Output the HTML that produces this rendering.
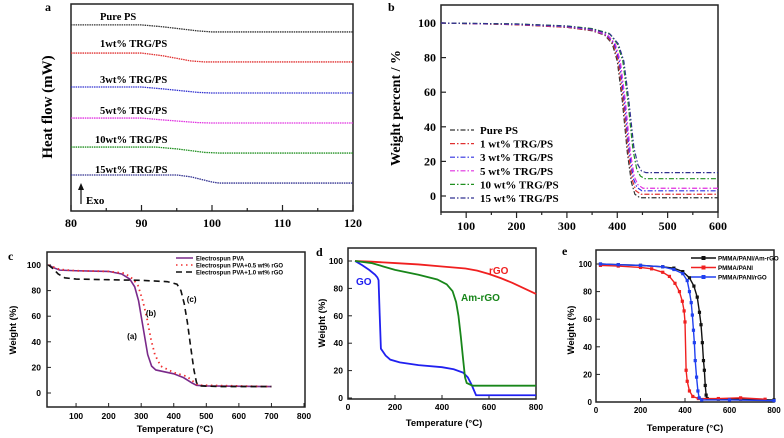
<!DOCTYPE html>
<html><head><meta charset="utf-8"><style>
html,body{margin:0;padding:0;background:#fff;}
svg{display:block;}
.sr{font-family:"Liberation Serif",serif;font-weight:bold;}
.ss{font-family:"Liberation Sans",sans-serif;font-weight:bold;}
</style></head><body>
<svg id="fig" width="784" height="438" viewBox="0 0 784 438" xmlns="http://www.w3.org/2000/svg"></svg>
<script>
// ---------- DATA ----------
// Panel a (DSC): [temperature, heat flow arbitrary]
const aPure=[[80,89.9],[90,89.9],[93,89],[98,87],[100,86.5],[120,86.5]];
const a1wt=[[80,76.3],[90,76.3],[93,75],[97,72.5],[99,72],[120,72]];
const a3wt=[[80,59.9],[90,59.9],[93,59],[98,57.3],[100,57],[120,57]];
const a5wt=[[80,44.9],[90,44.9],[93,44],[98,42.7],[100,42.5],[120,42.5]];
const a10wt=[[80,30.9],[92,30.9],[95,30],[99,28.3],[101,28],[120,28]];
const a15wt=[[80,17.4],[95,17.4],[97,16.5],[100,14],[101,13.5],[120,13.5]];
const aLabels=["Pure PS","1wt% TRG/PS","3wt% TRG/PS","5wt% TRG/PS","10wt% TRG/PS","15wt% TRG/PS"];
const aXTicks=[80,90,100,110,120];
// Panel b (TGA)
const bPure=[[50,100],[200,99],[300,97.5],[350,95.5],[375,93],[390,88],[400,78],[410,55],[420,25],[428,8],[435,1],[445,-1],[600,-1]];
const b1wt=[[50,100],[200,99],[300,97.5],[350,95.7],[377,93],[392,88],[402,78],[412,55],[422,25],[430,9],[437,3],[447,1],[600,1]];
const b3wt=[[50,100],[200,99.2],[300,97.8],[350,96],[379,93],[394,88],[404,78],[414,55],[424,25],[432,10],[439,5],[449,3],[600,3]];
const b5wt=[[50,100],[200,99.3],[300,98],[350,96.2],[381,93],[396,88],[406,78],[416,55],[426,25],[434,11],[441,6.5],[451,4.5],[600,4.5]];
const b10wt=[[50,100],[200,99.5],[300,98.3],[350,96.8],[384,94],[400,88],[411,78],[421,55],[431,27],[439,15],[446,11.5],[455,10],[600,10]];
const b15wt=[[50,100],[200,99.4],[300,98.2],[350,96.5],[386,93.5],[402,88],[413,78],[423,55],[433,28],[441,18],[448,14.5],[457,13.5],[600,13.5]];
const bLabels=["Pure PS","1 wt% TRG/PS","3 wt% TRG/PS","5 wt% TRG/PS","10 wt% TRG/PS","15 wt% TRG/PS"];
const bXTicks=[100,200,300,400,500,600];
const bYTicks=[0,20,40,60,80,100];
// Panel c
const cPVA=[[15,100],[30,98],[50,96],[100,95.5],[200,95],[240,93],[265,89],[280,83],[292,72],[300,60],[310,45],[320,30],[332,21],[345,18],[400,15],[430,12],[455,8],[470,6],[500,5.5],[700,5]];
const cPVA05=[[15,100],[50,96.5],[100,95.5],[200,95],[250,93.5],[275,89],[290,84],[305,72],[318,58],[330,42],[342,30],[360,21],[400,16],[440,13],[460,9],[475,6],[500,6],[700,5]];
const cPVA10=[[15,100],[30,97],[45,93],[65,90],[100,89],[200,88.5],[300,88],[380,87],[410,85],[422,80],[432,70],[442,55],[452,36],[462,18],[470,8],[480,5.5],[550,5],[700,5]];
const cLabels=["Electrospun PVA","Electrospun PVA+0.5 wt% rGO","Electrospun PVA+1.0 wt% rGO"];
const cXTicks=[100,200,300,400,500,600,700,800];
const cYTicks=[0,20,40,60,80,100];
// Panel d
const dRGO=[[30,100],[100,99.5],[200,98.5],[300,97.5],[400,96],[500,94.5],[550,93],[600,90.5],[650,87.5],[700,84],[750,80],[800,76]];
const dGO=[[30,100],[60,97],[90,93.5],[115,90],[125,88],[130,86],[135,60],[140,36],[160,31],[180,28],[220,26],[300,24],[400,22.5],[450,21],[490,18.5],[510,15],[525,10],[540,4],[545,2],[800,2]];
const dAmRGO=[[30,100],[100,98.5],[150,96],[200,93.5],[300,90],[380,86.5],[420,83],[445,78],[460,70],[470,60],[480,45],[490,28],[498,15],[505,11],[530,9],[800,9]];
const dXTicks=[0,200,400,600,800];
const dYTicks=[0,20,40,60,80,100];
// Panel e
const eAmRGO=[[20,100],[100,99.5],[200,99],[300,98],[350,97],[390,94.5],[420,90],[440,84],[455,76],[465,65],[472,56],[478,43],[483,30],[487,23],[491,12],[495,5],[500,2.5],[550,2],[650,2],[800,1.5]];
const ePANI=[[20,99],[100,98.5],[200,97.5],[250,96.5],[300,94],[330,91],[355,86],[375,80],[388,73],[396,66],[400,58],[405,23],[410,15],[420,8],[435,4],[460,2.5],[550,2.5],[650,3],[760,2]];
const eRGO=[[20,100],[100,99.5],[200,99],[300,98],[350,96],[390,93],[410,88],[420,80],[428,72],[433,63],[438,52],[442,43],[446,30],[452,18],[458,8],[464,3],[475,1.5],[600,1.5],[800,1]];
const eLabels=["PMMA/PANI/Am-rGO","PMMA/PANI","PMMA/PANI/rGO"];
const eXTicks=[0,200,400,600,800];
const eYTicks=[0,20,40,60,80,100];

// ---------- HELPERS ----------
const svg=document.getElementById('fig');
const NS='http://www.w3.org/2000/svg';
function mk(tag,attrs,parent){const e=document.createElementNS(NS,tag);for(const k in attrs)e.setAttribute(k,attrs[k]);(parent||svg).appendChild(e);return e;}
function scale(d0,d1,r0,r1){return v=>r0+(v-d0)*(r1-r0)/(d1-d0);}
function txt(s,x,y,cls,size,attrs,parent){const t=mk('text',Object.assign({x:x,y:y,class:cls,'font-size':size},attrs||{}),parent);t.textContent=s;return t;}
function line(pts,sx,sy,stroke,w,dash,g){let d='';pts.forEach((p,i)=>{d+=(i?'L':'M')+sx(p[0]).toFixed(2)+','+sy(p[1]).toFixed(2);});const a={d:d,fill:'none',stroke:stroke,'stroke-width':w};if(dash)a['stroke-dasharray']=dash;return mk('path',a,g);}
function box(x0,y0,x1,y1,g){return mk('rect',{x:x0,y:y0,width:x1-x0,height:y1-y0,fill:'none',stroke:'#222','stroke-width':1.5},g);}

// ---------- PANEL A ----------
{const g=mk('g',{});


const sx=scale(80,120,71,353), sy=scale(0,100,211,4);
box(71,4,353,211,g);
for(let v=80;v<=120;v+=5){const x=sx(v);mk('line',{x1:x,x2:x,y1:211,y2:v%10?208:205,stroke:'#222','stroke-width':1.2},g);}
aXTicks.forEach(v=>{const t=txt(String(v),sx(v),227,'sr',12,{'text-anchor':'middle'},g);});
const series=[aPure,a1wt,a3wt,a5wt,a10wt,a15wt], cols=['#333','#e03030','#3030d0','#e030e0','#209020','#303090'];
const lx=[100,100,100,100,95,95], ly=[20,47,83,114,143,173];
series.forEach((s,i)=>{const p=line(s,sx,sy,cols[i],1.3,'1.5 0.8',g);
const t=txt(aLabels[i],lx[i],ly[i],'sr',10.5,{},g);});
mk('line',{x1:81,x2:81,y1:204,y2:188,stroke:'#111','stroke-width':1.2},g);
mk('path',{d:'M78,190 L81,183 L84,190 Z',fill:'#111'},g);
txt('Exo',86,204,'sr',11,{},g);
txt('a',45,11,'sr',12,{},g);
const yt=txt('Heat flow (mW)',0,0,'sr',15,{'text-anchor':'middle',transform:'translate(52,107) rotate(-90)'},g);
}

// ---------- PANEL B ----------
{const g=mk('g',{});


const sx=scale(50,600,441,718), sy=scale(0,100,196,23);
box(441,5,718,212,g);
for(let v=50;v<=600;v+=50){const x=sx(v);mk('line',{x1:x,x2:x,y1:212,y2:v%100?215:218,stroke:'#222','stroke-width':1.2},g);}
bXTicks.forEach(v=>{txt(String(v),sx(v),230,'sr',12,{'text-anchor':'middle'},g);});
bYTicks.forEach(v=>{const y=sy(v);mk('line',{x1:441,x2:446,y1:y,y2:y,stroke:'#222','stroke-width':1.2},g);txt(String(v),436,y+4,'sr',12,{'text-anchor':'end'},g);});
const series=[bPure,b1wt,b3wt,b5wt,b10wt,b15wt], cols=['#333','#e03030','#3030e0','#e030e0','#209020','#303090'];
series.forEach((s,i)=>{const p=line(s,sx,sy,cols[i],1.2,'5 2 1.5 2',g);
const ly=130+i*13.6;mk('line',{x1:450,x2:474,y1:ly,y2:ly,stroke:cols[i],'stroke-width':1.2,'stroke-dasharray':'5 2 1.5 2'},g);
const t=txt(bLabels[i],480,ly+4,'sr',11,{},g);});
txt('b',388,11,'sr',12,{},g);
const yt=txt('Weight percent / %',0,0,'sr',14,{'text-anchor':'middle',transform:'translate(400,108) rotate(-90)'},g);
}

// ---------- PANEL C ----------
{const g=mk('g',{});


const sx=scale(0,800,43.5,304), sy=scale(0,100,393,265);
box(47,252,305,407,g);
cXTicks.forEach(v=>{const x=sx(v);mk('line',{x1:x,x2:x,y1:407,y2:403,stroke:'#222'},g);txt(String(v),x,419,'ss',8.5,{'text-anchor':'middle'},g);});
cYTicks.forEach(v=>{const y=sy(v);mk('line',{x1:47,x2:51,y1:y,y2:y,stroke:'#222'},g);txt(String(v),41,y+3,'ss',8.5,{'text-anchor':'end'},g);});
const p1=line(cPVA,sx,sy,'#7a2a8a',1.6,null,g);
const p2=line(cPVA05,sx,sy,'#f03030',1.8,'1.5 3.5',g);
const p3=line(cPVA10,sx,sy,'#111',1.6,'6 4',g);
const st=[['#7a2a8a',null],['#f03030','1.5 3.5'],['#111','6 4']];
cLabels.forEach((l,i)=>{const y=258+i*7;mk('line',{x1:176,x2:193,y1:y,y2:y,stroke:st[i][0],'stroke-width':1.4,'stroke-dasharray':st[i][1]||'none'},g);txt(l,196,y+2.5,'ss',6,{},g);});
txt('(a)',sx(272),sy(42),'ss',8,{'text-anchor':'middle'},g);
txt('(b)',sx(330),sy(60),'ss',8,{'text-anchor':'middle'},g);
txt('(c)',sx(455),sy(71),'ss',8,{'text-anchor':'middle'},g);
txt('c',8,260,'sr',12,{},g);
txt('Temperature (°C)',175,432,'ss',9.5,{'text-anchor':'middle'},g);
txt('Weight (%)',0,0,'ss',9.5,{'text-anchor':'middle',transform:'translate(16,330) rotate(-90)'},g);}

// ---------- PANEL D ----------
{const g=mk('g',{});


const sx=scale(0,800,348,536), sy=scale(0,100,398,261);
box(348,248,536,399,g);
dXTicks.forEach(v=>{const x=sx(v);mk('line',{x1:x,x2:x,y1:399,y2:395,stroke:'#222'},g);txt(String(v),x,410,'ss',8.5,{'text-anchor':'middle'},g);});
dYTicks.forEach(v=>{const y=sy(v);mk('line',{x1:348,x2:352,y1:y,y2:y,stroke:'#222'},g);txt(String(v),343,y+3,'ss',8.5,{'text-anchor':'end'},g);});
const a=line(dRGO,sx,sy,'#f02020',1.8,null,g);
const b=line(dGO,sx,sy,'#2020f0',1.8,null,g);
const c=line(dAmRGO,sx,sy,'#18861a',1.8,null,g);
txt('rGO',489,274,'ss',10,{fill:'#f02020'},g);
txt('GO',356,285,'ss',10,{fill:'#2020f0'},g);
txt('Am-rGO',461,301,'ss',10,{fill:'#18861a'},g);
txt('d',316,256,'sr',12,{},g);
txt('Temperature (°C)',444,426,'ss',9.5,{'text-anchor':'middle'},g);
txt('Weight (%)',0,0,'ss',9.5,{'text-anchor':'middle',transform:'translate(325,323) rotate(-90)'},g);}

// ---------- PANEL E ----------
{const g=mk('g',{});


const sx=scale(0,800,596,774), sy=scale(0,100,402,264);
box(596,250,774,402,g);
eXTicks.forEach(v=>{const x=sx(v);mk('line',{x1:x,x2:x,y1:402,y2:398,stroke:'#222'},g);txt(String(v),x,413,'ss',8,{'text-anchor':'middle'},g);});
eYTicks.forEach(v=>{const y=sy(v);mk('line',{x1:596,x2:600,y1:y,y2:y,stroke:'#222'},g);txt(String(v),592,y+3,'ss',8,{'text-anchor':'end'},g);});
const ser=[eAmRGO,ePANI,eRGO], cols=['#111','#f02020','#2040f0'];
ser.forEach((s,i)=>{const p=line(s,sx,sy,cols[i],1.4,null,g);
s.forEach(pt=>{mk('rect',{x:sx(pt[0])-1.6,y:sy(pt[1])-1.6,width:3.2,height:3.2,fill:cols[i]},g);});
const ly=258+i*9.5;mk('line',{x1:691,x2:716,y1:ly,y2:ly,stroke:cols[i],'stroke-width':1.4},g);mk('rect',{x:701.5,y:ly-2,width:4,height:4,fill:cols[i]},g);
const t=txt(eLabels[i],718,ly+2.5,'ss',6.2,{},g);});
txt('e',562,255,'sr',12,{},g);
txt('Temperature (°C)',685,431,'ss',9.5,{'text-anchor':'middle'},g);
txt('Weight (%)',0,0,'ss',9.5,{'text-anchor':'middle',transform:'translate(574,330) rotate(-90)'},g);}
</script>
</body></html>
